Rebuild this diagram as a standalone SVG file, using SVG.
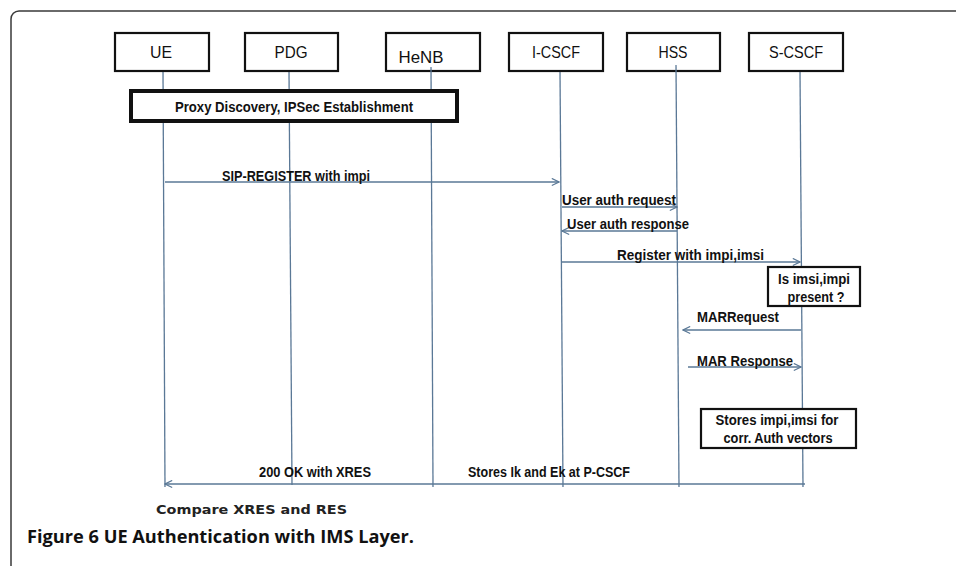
<svg xmlns="http://www.w3.org/2000/svg" width="956" height="566" viewBox="0 0 956 566">
<style>
.frame{fill:none;stroke:#3a3a3a;stroke-width:1.5}
.hdr{fill:#fff;stroke:#111;stroke-width:2.2}
.note{fill:#fff;stroke:#111;stroke-width:2.2}
.life{stroke:#5a7896;stroke-width:1.3;fill:none}
.msg{stroke:#5a7896;stroke-width:1.3;fill:none}
.ht{font-family:"Liberation Sans",Arial,sans-serif;font-size:17px;fill:#111}
.lb{font-family:"Liberation Sans",Arial,sans-serif;font-size:14px;font-weight:bold;fill:#111}
.cmp{font-family:"DejaVu Sans",sans-serif;font-size:12px;font-weight:bold;fill:#222}
.cap{font-family:"Open Sans","Liberation Sans",sans-serif;font-size:17px;font-weight:bold;fill:#111}
</style>
<defs>
<marker id="ah" viewBox="0 0 10 10" refX="9" refY="5" markerWidth="9" markerHeight="9" markerUnits="userSpaceOnUse" orient="auto">
<path d="M1,1 L9,5 L1,9" fill="none" stroke="#5a7896" stroke-width="1.3"/>
</marker>
</defs>
<rect width="956" height="566" fill="#fff"/>
<rect class="frame" x="11" y="11" width="960" height="580" rx="8"/>

<g id="UE">
<line class="life" x1="163" y1="71" x2="165" y2="487"/>
<rect class="hdr" x="115" y="33" width="94" height="38"/>
<text class="ht" x="161" y="58" text-anchor="middle" textLength="22" lengthAdjust="spacingAndGlyphs">UE</text>
</g>
<g id="PDG">
<line class="life" x1="289" y1="71" x2="292" y2="485"/>
<rect class="hdr" x="245" y="33" width="93" height="38"/>
<text class="ht" x="291" y="58" text-anchor="middle" textLength="33" lengthAdjust="spacingAndGlyphs">PDG</text>
</g>
<g id="HeNB">
<rect class="hdr" x="386" y="33" width="94" height="38"/>
<line class="life" x1="431" y1="67" x2="433" y2="487"/>
<text class="ht" x="421" y="63" text-anchor="middle" textLength="45" lengthAdjust="spacingAndGlyphs">HeNB</text>
</g>
<g id="I-CSCF">
<line class="life" x1="560" y1="71" x2="563" y2="487"/>
<rect class="hdr" x="509" y="33" width="94" height="38"/>
<text class="ht" x="556" y="58" text-anchor="middle" textLength="48" lengthAdjust="spacingAndGlyphs">I-CSCF</text>
</g>
<g id="HSS">
<rect class="hdr" x="627" y="33" width="93" height="38"/>
<line class="life" x1="676" y1="65" x2="679" y2="487"/>
<text class="ht" x="673" y="58" text-anchor="middle" textLength="29" lengthAdjust="spacingAndGlyphs">HSS</text>
</g>
<g id="S-CSCF">
<line class="life" x1="800" y1="71" x2="803" y2="487"/>
<rect class="hdr" x="749" y="33" width="94" height="38"/>
<text class="ht" x="796" y="58" text-anchor="middle" textLength="54" lengthAdjust="spacingAndGlyphs">S-CSCF</text>
</g>

<g id="proxy">
<rect x="131" y="91" width="326" height="30" fill="#fff" stroke="#111" stroke-width="4"/>
<text class="lb" x="294" y="112" text-anchor="middle" textLength="238" lengthAdjust="spacingAndGlyphs">Proxy Discovery, IPSec Establishment</text>
</g>

<g id="connectors">
<line class="msg" x1="165" y1="182" x2="559" y2="182" marker-end="url(#ah)"/>
<line class="msg" x1="562" y1="207" x2="677" y2="207" marker-end="url(#ah)"/>
<line class="msg" x1="677" y1="231" x2="562" y2="231" marker-end="url(#ah)"/>
<line class="msg" x1="561" y1="262" x2="800" y2="262" marker-end="url(#ah)"/>
<line class="msg" x1="801" y1="330" x2="683" y2="330" marker-end="url(#ah)"/>
<line class="msg" x1="688" y1="367" x2="801" y2="367" marker-end="url(#ah)"/>
<line class="msg" x1="805" y1="484" x2="165" y2="484" marker-end="url(#ah)"/>
</g>

<g id="labels">
<text class="lb" x="222" y="181" textLength="148" lengthAdjust="spacingAndGlyphs">SIP-REGISTER with impi</text>
<text class="lb" x="562" y="205" textLength="114" lengthAdjust="spacingAndGlyphs">User auth request</text>
<text class="lb" x="567" y="229" textLength="122" lengthAdjust="spacingAndGlyphs">User auth response</text>
<text class="lb" x="617" y="260" textLength="147" lengthAdjust="spacingAndGlyphs">Register with impi,imsi</text>
<text class="lb" x="697" y="322" textLength="82" lengthAdjust="spacingAndGlyphs">MARRequest</text>
<text class="lb" x="697" y="366" textLength="96" lengthAdjust="spacingAndGlyphs">MAR Response</text>
<text class="lb" x="259" y="477" textLength="112" lengthAdjust="spacingAndGlyphs">200 OK with XRES</text>
<text class="lb" x="468" y="477" textLength="162" lengthAdjust="spacingAndGlyphs">Stores Ik and Ek at P-CSCF</text>
</g>

<g id="check">
<rect class="note" x="768" y="267" width="92" height="39"/>
<text class="lb" x="814" y="284" text-anchor="middle" textLength="72" lengthAdjust="spacingAndGlyphs">Is imsi,impi</text>
<text class="lb" x="816" y="302" text-anchor="middle" textLength="57" lengthAdjust="spacingAndGlyphs">present ?</text>
</g>

<g id="stores">
<rect class="note" x="701" y="409" width="155" height="39"/>
<text class="lb" x="777" y="425" text-anchor="middle" textLength="123" lengthAdjust="spacingAndGlyphs">Stores impi,imsi for</text>
<text class="lb" x="778" y="443" text-anchor="middle" textLength="109" lengthAdjust="spacingAndGlyphs">corr. Auth vectors</text>
</g>

<text class="cmp" x="156" y="514" textLength="191" lengthAdjust="spacingAndGlyphs">Compare XRES and RES</text>
<text class="cap" x="27" y="543" textLength="387" lengthAdjust="spacingAndGlyphs">Figure 6 UE Authentication with IMS Layer.</text>
</svg>
